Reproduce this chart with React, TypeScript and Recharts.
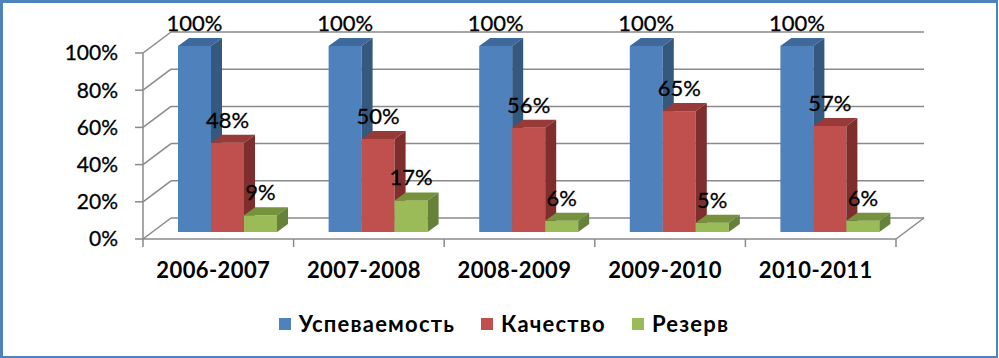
import { BarChart, Bar, XAxis, YAxis, CartesianGrid, Legend, LabelList } from "recharts";

const categories = ["2006-2007", "2007-2008", "2008-2009", "2009-2010", "2010-2011"];
const uspevaemost = [1, 1, 1, 1, 1];
const kachestvo = [0.48, 0.5, 0.56, 0.65, 0.57];
const rezerv = [0.09, 0.17, 0.06, 0.05, 0.06];
const yTicks = [0, 0.2, 0.4, 0.6, 0.8, 1];

const series = [
  { key: "uspevaemost", name: "Успеваемость", fill: "#4F81BD", top: "#3F689B", side: "#35587F" },
  { key: "kachestvo", name: "Качество", fill: "#C0504D", top: "#973A38", side: "#7E2F2D" },
  { key: "rezerv", name: "Резерв", fill: "#9BBB59", top: "#76923C", side: "#66813A" },
];

const data = categories.map((name, i) => ({
  name,
  uspevaemost: uspevaemost[i],
  kachestvo: kachestvo[i],
  rezerv: rezerv[i],
}));

const W = 999;
const H = 358;
const MARGIN = { top: 53, right: 103, bottom: 79, left: 0 };
const X_AXIS_H = 40;
const PLOT_BOTTOM = H - MARGIN.bottom - X_AXIS_H;
const FONT = "Lato, 'Noto Sans', sans-serif";
const GRID = "#8a8a8a";

// depth of the back wall and of a bar
const WALL_DX = 28;
const WALL_DY = -21;
const FACE_DX = 9;
const FACE_DY = -7;
const BAR_DX = 11;
const BAR_DY = -8;

const pct = (v: number) => `${Math.round(v * 100)}%`;

const renderHorizontal = (p: any) => {
  const { x1, x2, y1, index } = p;
  const floor = Math.abs(y1 - PLOT_BOTTOM) < 1;
  return (
    <g key={`h-${index}`}>
      <line x1={x1} y1={y1} x2={x1 + WALL_DX} y2={y1 + WALL_DY} stroke={GRID} strokeWidth={1.5} />
      <line x1={x1 + WALL_DX} y1={y1 + WALL_DY} x2={x2 + WALL_DX} y2={y1 + WALL_DY} stroke={GRID} strokeWidth={1.5} />
      {floor && <line x1={x2} y1={y1} x2={x2 + WALL_DX} y2={y1 + WALL_DY} stroke={GRID} strokeWidth={1.5} />}
    </g>
  );
};

const renderVertical = (p: any) => {
  const { x1, y2, index } = p;
  return <line key={`v-${index}`} x1={x1} x2={x1} y1={y2} y2={y2 + 8} stroke={GRID} strokeWidth={1.5} />;
};

const Box3D = (props: any) => {
  const { x, y, width, height, fill, top, side } = props;
  if (!height || height <= 0) return null;
  const fx = x + FACE_DX;
  const fy = y + FACE_DY;
  return (
    <g>
      <rect x={fx} y={fy} width={width} height={height} fill={fill} />
      <polygon
        points={`${fx},${fy} ${fx + BAR_DX},${fy + BAR_DY} ${fx + width + BAR_DX},${fy + BAR_DY} ${fx + width},${fy}`}
        fill={top}
      />
      <polygon
        points={`${fx + width},${fy} ${fx + width + BAR_DX},${fy + BAR_DY} ${fx + width + BAR_DX},${fy + height + BAR_DY} ${fx + width},${fy + height}`}
        fill={side}
      />
    </g>
  );
};

const renderLabel = (p: any) => {
  const { x, y, width, value } = p;
  return (
    <text
      x={x + width / 2 + FACE_DX}
      y={y + FACE_DY - 15}
      textAnchor="middle"
      fontSize={22}
      fontFamily={FONT}
      fill="#000"
      stroke="#000"
      strokeWidth={0.3}
    >
      {pct(value)}
    </text>
  );
};

const CategoryTick = (p: any) => {
  const { x, y, payload } = p;
  return (
    <text x={x - 5} y={y + 39} textAnchor="middle" fontSize={22} fontWeight="bold" fontFamily={FONT} fill="#000" letterSpacing={0.4}>
      {payload.value}
    </text>
  );
};

const renderLegend = () => (
  <div style={{ display: "flex", justifyContent: "center", paddingLeft: 9, fontFamily: FONT, fontWeight: "bold", fontSize: 22, color: "#000", letterSpacing: 1.2 }}>
    {series.map((s) => (
      <div key={s.key} style={{ display: "flex", alignItems: "center", margin: "0 13px" }}>
        <span style={{ display: "inline-block", width: 12, height: 12, background: s.fill, marginRight: 8 }} />
        <span>{s.name}</span>
      </div>
    ))}
  </div>
);

export default function App() {
  return (
    <div style={{ position: "absolute", left: 0, top: 0, width: W, height: H, background: "#fff" }}>
      <BarChart width={W} height={H} data={data} margin={MARGIN} barGap={0} barSize={33}>
        <CartesianGrid
          vertical={renderVertical}
          horizontal={renderHorizontal}
          verticalCoordinatesGenerator={({ offset }: any) =>
            categories.map((_, i) => offset.left + (i * offset.width) / categories.length).concat(offset.left + offset.width)
          }
        />
        <XAxis
          dataKey="name"
          height={X_AXIS_H}
          tickLine={false}
          tickSize={0}
          tickMargin={0}
          axisLine={{ stroke: GRID, strokeWidth: 1.5 }}
          tick={<CategoryTick />}
          interval={0}
        />
        <YAxis
          width={143}
          domain={[0, 1]}
          ticks={yTicks}
          tickFormatter={pct}
          tickSize={8}
          tickMargin={17}
          axisLine={{ stroke: GRID, strokeWidth: 1.5 }}
          tickLine={{ stroke: GRID, strokeWidth: 1.5 }}
          tick={{ fontSize: 21, fill: "#000", fontFamily: FONT, stroke: "#000", strokeWidth: 0.3 }}
        />
        {series.map((s) => (
          <Bar
            key={s.key}
            dataKey={s.key}
            name={s.name}
            fill={s.fill}
            isAnimationActive={false}
            shape={(props: any) => <Box3D {...props} fill={s.fill} top={s.top} side={s.side} />}
          >
            <LabelList dataKey={s.key} content={renderLabel} />
          </Bar>
        ))}
        <Legend verticalAlign="middle" align="center" layout="horizontal" wrapperStyle={{ top: 310, left: 0, width: W }} content={renderLegend} />
      </BarChart>
      <div
        style={{
          position: "absolute",
          left: 0,
          top: 0,
          width: W - 1,
          height: H,
          boxSizing: "border-box",
          borderStyle: "solid",
          borderColor: "#4F81BD",
          borderWidth: "3px 2px 2px 3px",
          pointerEvents: "none",
        }}
      />
    </div>
  );
}
